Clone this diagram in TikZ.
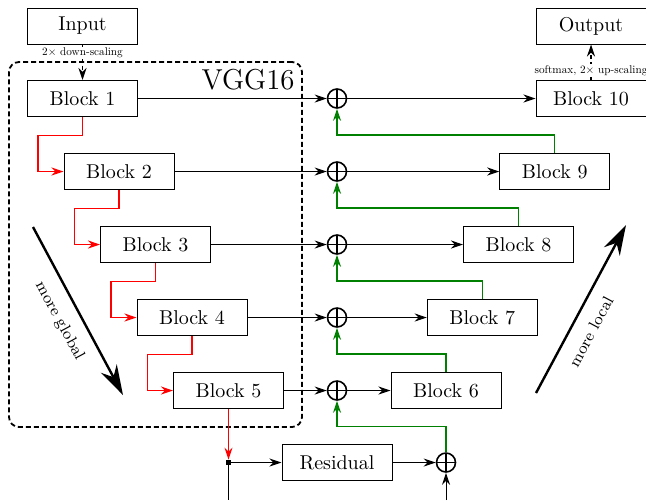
\documentclass[tikz,border=0pt]{standalone}
\usepackage{amsmath,amssymb}
\usepackage{tikz}
\usetikzlibrary{arrows.meta,shapes,positioning,calc,fit}

\begin{document}
\begin{tikzpicture}[x=0.5pt, y=-0.5pt,
    block/.style={draw, line width=0.5pt, minimum width=55pt, minimum height=18pt, inner sep=0pt},
    sumnode/.style={circle, draw, line width=0.8pt, minimum size=9.5pt, inner sep=0pt,
        path picture={\draw[line width=0.6pt] (path picture bounding box.north) -- (path picture bounding box.south)
            (path picture bounding box.west) -- (path picture bounding box.east);}},
    arr/.style={line width=0.5pt, -{Stealth[length=6pt,width=4pt]}},
    redarr/.style={arr, red, line width=0.6pt},
    greenarr/.style={arr, green!50!black, line width=0.6pt},
    dasharr/.style={arr, line width=0.8pt, dash pattern=on 2pt off 1.5pt},
    bigarr/.style={line width=1.2pt, -{Stealth[length=15pt,width=9pt]}},
    vggbox/.style={draw, line width=0.9pt, dash pattern=on 2.5pt off 1.5pt, rounded corners=5pt, inner sep=9pt},
    tinylabel/.style={fill=white, inner sep=1pt, scale=0.56}]
    \useasboundingbox (0,0) rectangle (646,500);

    % Encoder
    \node[block] (in) at (82.5, 26) {Input};
    \node[block] (b1) at (82.5, 98.5) {Block 1};
    \node[block] (b2) at (119, 171.5) {Block 2};
    \node[block] (b3) at (155.5, 244.5) {Block 3};
    \node[block] (b4) at (192, 317.5) {Block 4};
    \node[block] (b5) at (228.5, 390.5) {Block 5};

    % Decoder
    \node[block] (b6) at (446, 390.5) {Block 6};
    \node[block] (b7) at (482.25, 317.5) {Block 7};
    \node[block] (b8) at (518.5, 244.5) {Block 8};
    \node[block] (b9) at (554.75, 171.5) {Block 9};
    \node[block] (b10) at (591, 98.5) {Block 10};
    \node[block] (out) at (591, 26) {Output};

    % Sums
    \foreach \i/\y in {1/98.5, 2/171.5, 3/244.5, 4/317.5, 5/390.5}
        \node[sumnode] (o\i) at (337, \y) {};
    \node[block] (res) at (337, 462.5) {Residual};
    \node[sumnode] (o6) at (446, 462.5) {};
    \node[fill, minimum size=2.5pt, inner sep=0pt] (sq) at (228.5, 462.5) {};
    \coordinate (e1) at (228.5, 500);
    \coordinate (e2) at (446, 500);

    % VGG16 box
    \node[vggbox, fit=(b1)(b5)] (vgg) {};
    \node[anchor=north east, font=\Large, inner sep=4pt] (vgglabel) at (vgg.north east) {VGG16};

    % Skip connections
    \foreach \i/\j in {1/10, 2/9, 3/8, 4/7, 5/6} {
        \draw[arr] (b\i) -- (o\i);
        \draw[arr] (o\i) -- (b\j);
    }

    % Encoder chain
    \foreach \i/\j in {1/2, 2/3, 3/4, 4/5}
        \draw[redarr] (b\i.south) |- ++(-44.5, 18.5) |- (b\j.west);
    \draw[redarr] (b5) -- (sq);

    % Decoder chain
    \foreach \i/\k/\j in {1/2/9, 2/3/8, 3/4/7, 4/5/6}
        \draw[greenarr] (b\j.north) |- ($(o\i)!.5!(o\k)$) -- (o\i.south);
    \draw[greenarr] (o6.north) |- ($(o5)!.5!(res)$) -- (o5.south);

    % Residual path
    \draw[arr] (sq) -- (res);
    \draw[arr] (res) -- (o6);
    \draw[line width=0.5pt] (sq) -- (e1);
    \draw[arr] (e2) -- (o6);

    % In/out
    \draw[dasharr] (in) -- (b1) node[pos=0.24, tinylabel] (down) {2$\times$ down-scaling};
    \draw[dasharr] (b10) -- (out) node[pos=0.27, tinylabel] (up) {softmax, 2$\times$ up-scaling};

    % Trend arrows
    \coordinate (g1) at (33, 227);
    \coordinate (g2) at (123, 395);
    \coordinate (l1) at (536, 393);
    \coordinate (l2) at (626, 225);
    \draw[bigarr] (g1) -- (g2) node[midway, sloped, below=3pt, font=\footnotesize] (glob) {more global};
    \draw[bigarr] (l1) -- (l2) node[pos=0.42, sloped, below=3pt, font=\footnotesize] (loc) {more local};
\end{tikzpicture}
\end{document}
